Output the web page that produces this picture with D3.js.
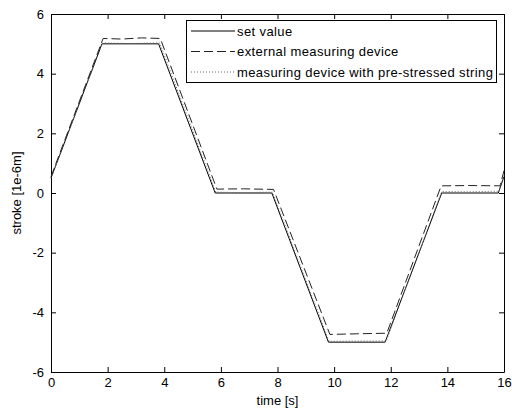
<!DOCTYPE html>
<html>
<head>
<meta charset="utf-8">
<script src="https://cdn.jsdelivr.net/npm/d3@7"></script>
<style>
  body { margin: 0; background: #fff; }
  text { font-family: "Liberation Sans", Arial, sans-serif; fill: #000; }
</style>
</head>
<body>
<script>
// time axis points [s] and strokes [1e-6 m] for each series
const setTime = [0, 1.8, 3.8, 5.8, 7.8, 9.8, 11.8, 13.8, 15.8, 16];
const setValue = [0.5, 5, 5, 0, 0, -5, -5, 0, 0, 0.55];

const extTime = [0, 1.84, 2.5, 3.2, 3.86, 5.86, 6.8, 7.86, 9.85, 10.8, 11.86, 13.78, 14.8, 15.86, 16];
const extValue = [0.55, 5.18, 5.16, 5.2, 5.18, 0.13, 0.14, 0.12, -4.74, -4.72, -4.7, 0.24, 0.25, 0.24, 0.75];

const strTime = [0, 1.82, 2.8, 3.84, 5.82, 6.8, 7.82, 9.82, 10.8, 11.84, 13.8, 14.8, 15.82, 16];
const strValue = [0.5, 5.03, 5.01, 5.03, 0.03, 0.01, 0.03, -4.97, -4.96, -4.96, 0.05, 0.04, 0.06, 0.6];

const xTicks = [0, 2, 4, 6, 8, 10, 12, 14, 16];
const yTicks = [-6, -4, -2, 0, 2, 4, 6];

const seriesNames = ['set value', 'external measuring device', 'measuring device with pre-stressed string'];

const width = 512, height = 412;
const margin = {left: 51, right: 8, top: 14, bottom: 40};

const svg = d3.select('body').append('svg')
    .attr('width', width)
    .attr('height', height);

const x = d3.scaleLinear().domain([0, 16]).range([margin.left, width - margin.right]);
const y = d3.scaleLinear().domain([-6, 6]).range([height - margin.bottom, margin.top]);

// MATLAB style: ticks pointing inward on every side
const tickLen = -5;
const fmt = d => String(d);
svg.append('g')
    .attr('transform', `translate(0,${y(-6)})`)
    .call(d3.axisBottom(x).tickValues(xTicks).tickFormat(fmt).tickSize(tickLen).tickPadding(6).tickSizeOuter(0))
    .call(g => g.selectAll('text').attr('font-size', 13));
svg.append('g')
    .attr('transform', `translate(0,${y(6)})`)
    .call(d3.axisTop(x).tickValues(xTicks).tickSize(tickLen).tickFormat('').tickSizeOuter(0));
svg.append('g')
    .attr('transform', `translate(${x(0)},0)`)
    .call(d3.axisLeft(y).tickValues(yTicks).tickFormat(fmt).tickSize(tickLen).tickPadding(7).tickSizeOuter(0))
    .call(g => g.selectAll('text').attr('font-size', 13));
svg.append('g')
    .attr('transform', `translate(${x(16)},0)`)
    .call(d3.axisRight(y).tickValues(yTicks).tickSize(tickLen).tickFormat('').tickSizeOuter(0));

svg.selectAll('.domain, .tick line').attr('stroke', '#000');

const line = d3.line().x(d => x(d[0])).y(d => y(d[1]));

svg.append('path')
    .datum(d3.zip(setTime, setValue))
    .attr('d', line)
    .attr('fill', 'none')
    .attr('stroke', '#000')
    .attr('stroke-width', 1);

svg.append('path')
    .datum(d3.zip(extTime, extValue))
    .attr('d', line)
    .attr('fill', 'none')
    .attr('stroke', '#222')
    .attr('stroke-width', 1)
    .attr('stroke-dasharray', '9,4');

svg.append('path')
    .datum(d3.zip(strTime, strValue))
    .attr('d', line)
    .attr('fill', 'none')
    .attr('stroke', '#666')
    .attr('stroke-width', 1)
    .attr('stroke-dasharray', '1,2');

// axis labels
svg.append('text')
    .attr('x', x(8)).attr('y', 405)
    .attr('text-anchor', 'middle')
    .attr('font-size', 13)
    .text('time [s]');

svg.append('text')
    .attr('transform', `translate(21,${y(0)}) rotate(-90)`)
    .attr('text-anchor', 'middle')
    .attr('font-size', 13)
    .text('stroke [1e-6m]');

// legend
const legend = svg.append('g');
legend.append('rect')
    .attr('x', 186.5).attr('y', 20.5)
    .attr('width', 310).attr('height', 62)
    .attr('fill', '#fff')
    .attr('stroke', '#000');

const dashes = [null, '9,4', '1,2'];
const colors = ['#000', '#222', '#666'];
const rows = legend.selectAll('g.row')
    .data(seriesNames)
    .enter()
  .append('g')
    .attr('class', 'row')
    .attr('transform', (d, i) => `translate(0,${31 + i * 20.5})`);

rows.append('line')
    .attr('x1', 191).attr('x2', 235)
    .attr('y1', 0).attr('y2', 0)
    .attr('stroke', (d, i) => colors[i])
    .attr('stroke-dasharray', (d, i) => dashes[i]);

rows.append('text')
    .attr('x', 237).attr('y', 4.5)
    .attr('font-size', 13)
    .attr('letter-spacing', 0.4)
    .text(d => d);
</script>
</body>
</html>
